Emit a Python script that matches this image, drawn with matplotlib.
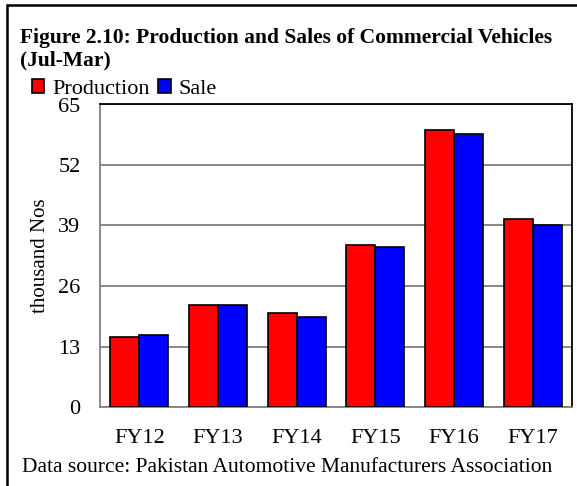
import matplotlib.pyplot as plt
import numpy as np
from matplotlib.patches import Rectangle, Patch


# ==========================
# DADOS
# ==========================

anos = ["FY12", "FY13", "FY14", "FY15", "FY16", "FY17"]

producao = [15.1, 21.9, 20.3, 34.8, 59.5, 40.4]

vendas = [15.5, 21.9, 19.4, 34.4, 58.7, 39.0]

y_ticks = [0, 13, 26, 39, 52, 65]


plt.rcParams["font.family"] = ["Liberation Serif", "DejaVu Serif"]


fig = plt.figure(figsize=(5.77, 4.86), dpi=100)

ax = fig.add_axes([100 / 577, 1 - 407 / 486, 472 / 577, (407 - 104.5) / 486])


x = np.arange(len(anos))
w = 0.37

ax.bar(x - w / 2, producao, w, color="#ff0000", edgecolor="black", linewidth=1.2, zorder=3)
ax.bar(x + w / 2, vendas, w, color="#0000ff", edgecolor="black", linewidth=1.2, zorder=3)


ax.set_xlim(-0.5, len(anos) - 0.5)
ax.set_ylim(0, 65)

ax.set_yticks(y_ticks)
ax.set_xticks(x)
ax.set_xticklabels(anos)

ax.tick_params(axis="both", length=0, labelsize=16, colors="black")
ax.tick_params(axis="y", pad=14)
ax.tick_params(axis="x", pad=16)

ax.yaxis.grid(True, color="#808080", linewidth=1.3, zorder=0)
ax.set_axisbelow(True)

for s in ["left", "bottom"]:
    ax.spines[s].set_color("#808080")
    ax.spines[s].set_linewidth(1.3)

for s in ["top", "right"]:
    ax.spines[s].set_color("black")
    ax.spines[s].set_linewidth(1.3)

ax.set_ylabel("thousand Nos", fontsize=15, labelpad=6)


# ==========================
# TITULO / LEGENDA / FONTE
# ==========================

fig.text(
    20 / 577, 1 - 43 / 486,
    "Figure 2.10: Production and Sales of Commercial Vehicles",
    fontsize=15.5, fontweight="bold", ha="left", va="baseline"
)

fig.text(
    20 / 577, 1 - 65 / 486,
    "(Jul-Mar)",
    fontsize=15.5, fontweight="bold", ha="left", va="baseline"
)

handles = [
    Patch(facecolor="#ff0000", edgecolor="black", linewidth=1.2),
    Patch(facecolor="#0000ff", edgecolor="black", linewidth=1.2),
]

fig.legend(
    handles, ["Production", "Sale"],
    loc="center left", bbox_to_anchor=(32 / 577, 1 - 89 / 486),
    ncol=2, frameon=False, fontsize=16,
    handlelength=0.55, handleheight=0.55, handletextpad=0.35,
    columnspacing=0.4, borderpad=0, borderaxespad=0
)

fig.text(
    22 / 577, 1 - 468 / 486,
    "Data source: Pakistan Automotive Manufacturers Association",
    fontsize=15.5, ha="left", va="center"
)


# moldura da figura
fig.patches.append(
    Rectangle(
        (7 / 577, -0.1), 1.2, 1 - 5 / 486 + 0.1,
        transform=fig.transFigure, fill=False,
        edgecolor="black", linewidth=1.8
    )
)


plt.savefig("out.png", dpi=100)

plt.close()
